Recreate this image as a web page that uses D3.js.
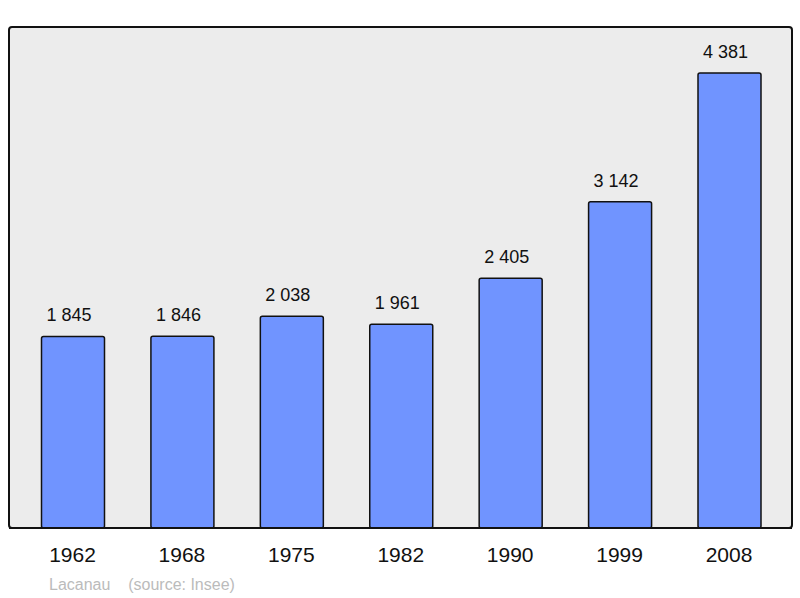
<!DOCTYPE html>
<html><head><meta charset="utf-8">
<script src="https://cdn.jsdelivr.net/npm/d3@7"></script>
<style>body{margin:0;background:#fff}svg{font-family:"Liberation Sans",Arial,sans-serif}</style>
</head><body><div id="chart"></div>
<script>
// Population data
var years = ["1962", "1968", "1975", "1982", "1990", "1999", "2008"];
var population = [1845, 1846, 2038, 1961, 2405, 3142, 4381];
var valueLabels = ["1 845", "1 846", "2 038", "1 961", "2 405", "3 142", "4 381"];

var svg = d3.select("#chart").append("svg").attr("width", 800).attr("height", 598);

// plot frame
svg.append("rect")
  .attr("x", 9).attr("y", 27).attr("width", 783).attr("height", 501)
  .attr("rx", 3)
  .attr("fill", "#ececec").attr("stroke", "#111").attr("stroke-width", 2);

var x = d3.scalePoint().domain(years).range([73, 729.5]);
var y = d3.scaleLinear().domain([0, 4381]).range([528, 73]);
var barW = 63;

svg.selectAll(".bar").data(population).enter().append("rect")
  .attr("class", "bar")
  .attr("x", (d, i) => x(years[i]) - barW / 2)
  .attr("y", d => y(d))
  .attr("width", barW)
  .attr("height", d => 528 - y(d))
  .attr("rx", 2)
  .attr("fill", "#7094ff").attr("stroke", "#111").attr("stroke-width", 1.5);

svg.selectAll(".val").data(population).enter().append("text")
  .attr("x", (d, i) => x(years[i]) - 4)
  .attr("y", d => y(d) - 15)
  .attr("text-anchor", "middle").attr("font-size", 18).attr("fill", "#111")
  .text((d, i) => valueLabels[i]);

// x axis labels
var xAxis = svg.append("g").attr("transform", "translate(-1,528)")
  .call(d3.axisBottom(x).tickSize(0).tickPadding(19));
xAxis.select(".domain").remove();
xAxis.selectAll("text").attr("font-size", 21).attr("fill", "#111")
  .attr("font-family", "Liberation Sans, Arial, sans-serif");

// baseline drawn over bars
svg.append("line").attr("x1", 9).attr("x2", 792).attr("y1", 528).attr("y2", 528)
  .attr("stroke", "#111").attr("stroke-width", 2);

svg.append("text").attr("x", 49).attr("y", 590)
  .attr("font-size", 16).attr("fill", "#bbb")
  .attr("xml:space", "preserve")
  .text("Lacanau    (source: Insee)");
</script></body></html>
